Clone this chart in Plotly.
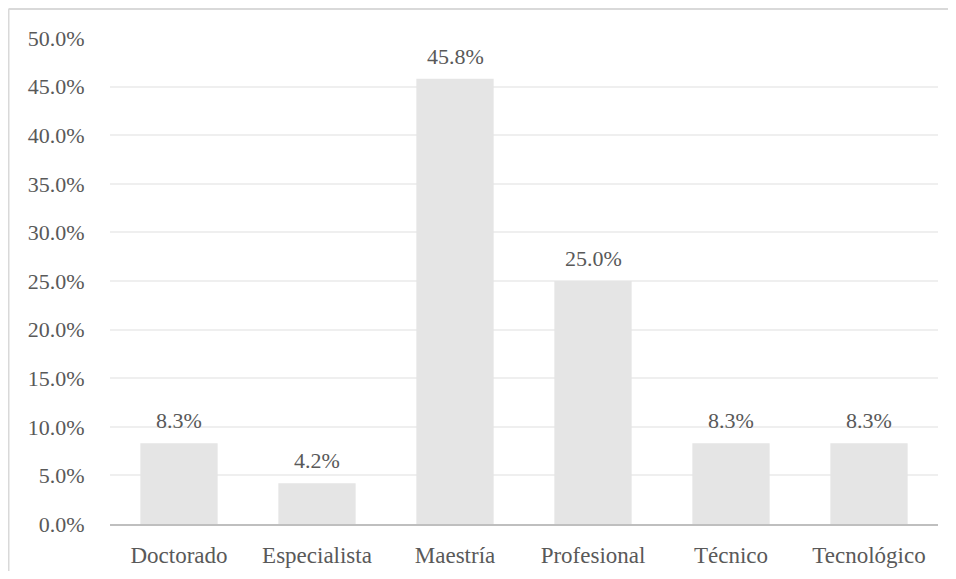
import plotly.graph_objects as go

categories = ["Doctorado", "Especialista", "Maestría", "Profesional", "Técnico", "Tecnológico"]
values = [0.083, 0.042, 0.458, 0.25, 0.083, 0.083]
labels = ["8.3%", "4.2%", "45.8%", "25.0%", "8.3%", "8.3%"]

FONT = "'Liberation Serif', 'Times New Roman', serif"
TXT = "#595959"
FS = 23

fig = go.Figure(go.Bar(
    x=categories, y=values,
    marker=dict(color="#e5e5e5", line=dict(width=0)),
    hoverinfo="skip",
))

for c, v, t in zip(categories, values, labels):
    fig.add_annotation(x=c, y=v, text=t, showarrow=False, yanchor="bottom",
                       yshift=8, font=dict(family=FONT, size=FS - 1, color=TXT))

W, H = 940, 563
ml, mr, mt, mb = 102, 10, 30, 47
pw, ph = W - ml - mr, H - mt - mb
bx = (0.5 - ml) / pw
ty = (H - mb - 1) / ph

fig.update_layout(
    width=W, height=H,
    margin=dict(l=ml, r=mr, t=mt, b=mb),
    paper_bgcolor="white", plot_bgcolor="white",
    bargap=0.44, showlegend=False,
    font=dict(family=FONT, size=FS, color=TXT),
    xaxis=dict(showgrid=False, showline=True, linecolor="#bfbfbf", linewidth=2,
               automargin=False,
               ticks="outside", ticklen=9, tickcolor="rgba(0,0,0,0)",
               tickfont=dict(family=FONT, size=FS, color=TXT)),
    yaxis=dict(range=[0, 0.5], dtick=0.05, tickformat=".1%", showgrid=True,
               automargin=False,
               gridcolor="#efefef", gridwidth=1.5, zeroline=False, showline=False,
               ticks="outside", ticklen=20, tickcolor="rgba(0,0,0,0)",
               tickfont=dict(family=FONT, size=FS - 1, color=TXT)),
    shapes=[
        dict(type="line", xref="paper", yref="paper", x0=bx, x1=bx, y0=-0.3, y1=ty,
             line=dict(color="#d9d9d9", width=2), layer="below"),
        dict(type="line", xref="paper", yref="paper", x0=bx, x1=1.05, y0=ty, y1=ty,
             line=dict(color="#d9d9d9", width=2), layer="below"),
    ],
)

fig.write_html("out.html")
